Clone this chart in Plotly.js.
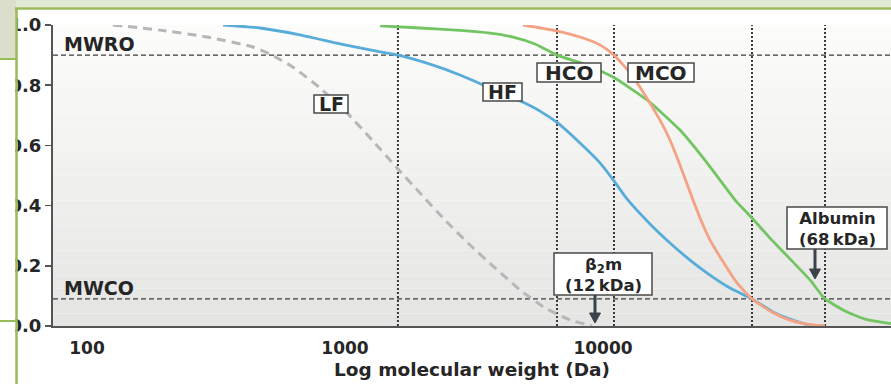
<!DOCTYPE html>
<html><head><meta charset="utf-8">
<script src="https://cdn.plot.ly/plotly-3.0.1.min.js"></script>
<style>html,body{margin:0;padding:0;background:#fff;overflow:hidden}#chart{width:891px;height:384px}</style>
</head><body><div id="chart"></div>
<script>
// ---- Data: molecular weight (Da) vs sieving coefficient ----
const lfMW  = [126,192,292,440,521,629,800,1018,1273,1591,1953,2441,3051,3814,4767,5959,7450,9067];
const lfS   = [1.0,0.983,0.960,0.927,0.900,0.860,0.791,0.708,0.618,0.525,0.442,0.352,0.269,0.193,0.120,0.060,0.020,0.0];
const hfMW  = [337,468,669,956,1250,1604,2135,2791,3648,4767,5699,6691,8145,9736,11031,12390,15210,18180,21740,25980,31060,37800,46420,55480,63430,72530];
const hfS   = [1.0,0.990,0.967,0.937,0.917,0.900,0.870,0.834,0.791,0.748,0.714,0.674,0.608,0.542,0.482,0.422,0.339,0.276,0.219,0.169,0.126,0.090,0.043,0.017,0.003,0.0];
const hcoMW = [1367,1953,2791,3648,4479,5450,6632,8516,10934,14810,19880,25530,32770,37800,44390,53060,63430,72530,86700,103630,130740];
const hcoS  = [0.997,0.990,0.982,0.973,0.960,0.937,0.900,0.869,0.827,0.751,0.651,0.538,0.415,0.359,0.292,0.223,0.153,0.090,0.050,0.023,0.008];
const mcoMW = [4897,6400,8145,9736,11031,12726,14810,16632,18180,19880,21740,23770,25980,28920,33070,37800,44390,51660,60660,72530];
const mcoS  = [1.0,0.983,0.960,0.934,0.900,0.841,0.757,0.684,0.618,0.535,0.445,0.359,0.286,0.219,0.143,0.090,0.050,0.023,0.007,0.0];

const mwro = 0.9;     // MWRO level
const mwco = 0.09;    // MWCO level
const cutMW = [1604, 6632, 11031, 37800, 72530];   // vertical marker lines

const xTickVals = [100, 1000, 10000, 100000];
const xTickText = ['100', '1000', '10000', '100000'];
const yTickVals = [0, 0.2, 0.4, 0.6, 0.8, 1.0];

const curveLabels = ['LF', 'HF', 'HCO', 'MCO'];
const refLabels = ['MWRO', 'MWCO'];
const markerLabels = ['Albumin<br>(68\u202FkDa)', '\u03b2<sub>2</sub>m<br>(12\u202FkDa)'];
const xTitle = 'Log molecular weight (Da)';

// ---- Layout geometry ----
const L = 53, T = 25, W = 838, H = 301;
const xRange = [1.86822, 5.11628];
const P = px => (px - L) / W;
const Q = py => (T + H - py) / H;

const ink = '#262626';
const fontB = (s, c) => ({family: 'DejaVu Sans', size: s, color: c || ink, weight: 700});

const xMin = Math.pow(10, xRange[0]), xMax = Math.pow(10, xRange[1]);
const vx = [], vy = [];
cutMW.forEach(v => { vx.push(v, v, null); vy.push(0, 1, null); });

const traces = [
  {x: [xMin, xMax, null, xMin, xMax], y: [mwro, mwro, null, mwco, mwco], mode: 'lines',
   line: {color: '#3d3d3d', width: 1.3, dash: '5px,3px'}, hoverinfo: 'skip'},
  {x: vx, y: vy, mode: 'lines', line: {color: '#3a3a3a', width: 2, dash: '2px,2px'}, hoverinfo: 'skip'},
  {x: lfMW, y: lfS, name: 'LF', mode: 'lines', line: {color: '#b7b7b7', width: 3, dash: '9px,6px', shape: 'spline', smoothing: 0.5}},
  {x: hfMW, y: hfS, name: 'HF', mode: 'lines', line: {color: '#58acd9', width: 2.8, shape: 'spline', smoothing: 0.5}},
  {x: hcoMW, y: hcoS, name: 'HCO', mode: 'lines', line: {color: '#72c562', width: 2.8, shape: 'spline', smoothing: 0.5}},
  {x: mcoMW, y: mcoS, name: 'MCO', mode: 'lines', line: {color: '#f4a184', width: 2.8, shape: 'spline', smoothing: 0.5}}
];

// ---- Shapes ----
const shapes = [];
// background gradient (white top -> light grey bottom)
const NB = 24, cTop = [252, 252, 252], cBot = [229, 229, 227];
for (let i = 0; i < NB; i++) {
  const t = (i + 0.5) / NB;
  const c = cBot.map((b, k) => Math.round(b + (cTop[k] - b) * t));
  shapes.push({type: 'rect', xref: 'paper', yref: 'paper', x0: 0, x1: 1, y0: i / NB, y1: (i + 1) / NB,
    fillcolor: `rgb(${c[0]},${c[1]},${c[2]})`, line: {width: 0}, layer: 'below'});
}
// label boxes
const boxes = [[314,95,348,113],[483,83,522,101],[537,63,601,82],[628,63,694,82],[787,207,887,249],[554,253,652,295]];
boxes.forEach(b => shapes.push({type: 'rect', xref: 'paper', yref: 'paper', x0: P(b[0]), x1: P(b[2]), y0: Q(b[3]), y1: Q(b[1]),
  fillcolor: '#ffffff', line: {color: '#4a4a4a', width: 1.5}, layer: 'above'}));
// arrows below the marker boxes
const arrowCol = '#3b4249';
const arrowShape = (px, pyTail, pyTip) => {
  shapes.push({type: 'line', xref: 'paper', yref: 'paper', x0: P(px), x1: P(px), y0: Q(pyTail), y1: Q(pyTip - 8),
    line: {color: arrowCol, width: 3}, layer: 'above'});
  shapes.push({type: 'path', xref: 'paper', yref: 'paper',
    path: `M ${P(px - 5.5)} ${Q(pyTip - 10)} L ${P(px + 5.5)} ${Q(pyTip - 10)} L ${P(px)} ${Q(pyTip)} Z`,
    fillcolor: arrowCol, line: {color: arrowCol, width: 1}, layer: 'above'});
};
arrowShape(595, 295, 323);
arrowShape(815, 249, 279);
// slide frame decoration
const green = '#9bbb59';
shapes.push({type: 'rect', xref: 'paper', yref: 'paper', x0: P(0), x1: P(891), y0: Q(7.5), y1: Q(0), fillcolor: '#e0e9d5', line: {width: 0}, layer: 'above'});
shapes.push({type: 'rect', xref: 'paper', yref: 'paper', x0: P(0), x1: P(16), y0: Q(59), y1: Q(0), fillcolor: '#dadecb', line: {width: 0}, layer: 'above'});
shapes.push({type: 'rect', xref: 'paper', yref: 'paper', x0: P(0), x1: P(15.5), y0: Q(384), y1: Q(59), fillcolor: '#ffffff', line: {width: 0}, layer: 'above'});
shapes.push({type: 'line', xref: 'paper', yref: 'paper', x0: P(15), x1: P(891), y0: Q(8.5), y1: Q(8.5), line: {color: green, width: 2.5}, layer: 'above'});
shapes.push({type: 'line', xref: 'paper', yref: 'paper', x0: P(16.5), x1: P(16.5), y0: Q(8), y1: Q(384), line: {color: green, width: 2.5}, layer: 'above'});
shapes.push({type: 'line', xref: 'paper', yref: 'paper', x0: P(0), x1: P(16), y0: Q(59), y1: Q(59), line: {color: green, width: 2}, layer: 'above'});
shapes.push({type: 'line', xref: 'paper', yref: 'paper', x0: P(0), x1: P(16), y0: Q(321), y1: Q(321), line: {color: green, width: 2}, layer: 'above'});

// ---- Annotations ----
const ann = [];
const txt = (text, px, py, size, anchor) => ann.push({text: text, xref: 'paper', yref: 'paper', x: P(px), y: Q(py),
  xanchor: anchor || 'center', yanchor: 'middle', showarrow: false, font: fontB(size)});
txt(curveLabels[0], 331, 104, 19);
txt(curveLabels[1], 502.5, 92, 19);
txt(curveLabels[2], 569, 72.5, 20);
txt(curveLabels[3], 661, 72.5, 20);
txt(refLabels[0], 62, 44, 19, 'left');
txt(refLabels[1], 62, 288, 19, 'left');
txt(markerLabels[0], 837, 229, 16.5);
txt(markerLabels[1], 603.5, 275, 16.5);

const layout = {
  width: 891, height: 384,
  margin: {l: L, r: 0, t: T, b: 384 - T - H, pad: 0},
  paper_bgcolor: '#ffffff', plot_bgcolor: '#ffffff',
  showlegend: false,
  font: {family: 'DejaVu Sans', color: ink},
  xaxis: {
    type: 'log', range: xRange, tickvals: xTickVals, ticktext: xTickText,
    ticks: '', showgrid: false, zeroline: false, showline: true, linecolor: '#555', linewidth: 2,
    tickfont: fontB(17), ticklabelstandoff: 6,
    title: {text: xTitle, font: fontB(18.5), standoff: 6}
  },
  yaxis: {
    range: [0, 1], tickvals: yTickVals, tickformat: '.1f',
    ticks: 'outside', ticklen: 6, tickwidth: 1.5, tickcolor: '#555',
    showgrid: false, zeroline: false, showline: true, linecolor: '#555', linewidth: 2,
    tickfont: fontB(18), ticklabelstandoff: 0
  },
  shapes: shapes,
  annotations: ann
};

Plotly.newPlot('chart', traces, layout, {staticPlot: true, displayModeBar: false});
</script>
</body></html>
